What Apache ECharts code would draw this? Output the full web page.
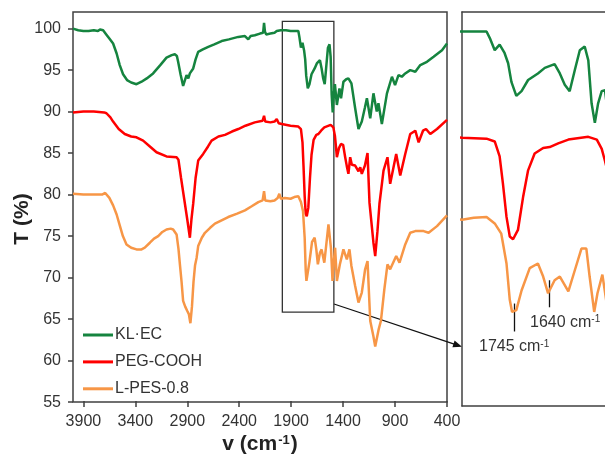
<!DOCTYPE html>
<html><head><meta charset="utf-8">
<script src="https://cdn.jsdelivr.net/npm/echarts/dist/echarts.min.js"></script>
<style>html,body{margin:0;padding:0;background:#fff}#c{width:605px;height:460px}</style>
</head><body><div id="c"></div>
<script>
const seriesNames = ['KL·EC', 'PEG-COOH', 'L-PES-0.8'];
const seriesColors = ['#15843F', '#FF0000', '#F79646'];

// [wavenumber (cm-1), transmittance (%)]
const klec = [[4000,100.0],[3950,99.8],[3900,99.7],[3850,99.7],[3800,99.8],[3760,99.7],[3740,99.9],[3726,100.0],[3710,99.8],[3680,99.3],[3650,98.8],[3614,98.2],[3580,97.0],[3550,95.6],[3518,94.5],[3480,93.8],[3440,93.5],[3389,93.3],[3340,93.6],[3290,94.0],[3229,94.6],[3160,95.6],[3100,96.5],[3050,96.8],[3020,96.9],[3000,96.7],[2988,96.0],[2965,94.5],[2940,93.1],[2925,93.3],[2907,94.4],[2890,94.0],[2875,94.6],[2859,94.6],[2843,95.2],[2820,96.3],[2795,97.2],[2750,97.5],[2698,97.8],[2640,98.1],[2569,98.5],[2500,98.7],[2409,99.0],[2345,99.1],[2313,98.7],[2290,99.1],[2250,99.2],[2200,99.4],[2170,99.5],[2161,100.7],[2152,99.6],[2140,99.3],[2100,99.4],[2060,99.5],[2039,99.7],[2020,99.5],[2000,99.8],[1991,99.9],[1950,99.8],[1906,99.7],[1860,99.7],[1831,99.7],[1821,99.0],[1806,97.7],[1791,98.3],[1776,97.4],[1765,96.3],[1755,94.3],[1740,92.8],[1724,93.3],[1704,94.5],[1674,95.2],[1653,95.8],[1623,96.2],[1607,95.2],[1592,94.0],[1577,93.3],[1561,95.6],[1546,97.7],[1531,98.1],[1520,96.6],[1510,92.0],[1500,89.9],[1490,92.0],[1479,93.3],[1469,93.4],[1460,90.8],[1435,92.8],[1420,91.6],[1397,93.6],[1370,93.9],[1349,94.0],[1320,93.4],[1284,90.4],[1252,87.9],[1220,88.8],[1190,90.5],[1171,91.6],[1139,89.2],[1108,92.2],[1076,90.0],[1060,91.0],[1027,88.5],[978,92.2],[930,94.2],[900,93.2],[867,94.4],[835,94.2],[802,94.6],[754,95.0],[705,94.8],[657,95.6],[593,96.0],[529,96.6],[448,97.4],[400,98.2]];

const pegCooh = [[4000,89.9],[3900,90.0],[3800,90.0],[3700,89.9],[3678,89.8],[3640,89.3],[3614,88.8],[3560,87.9],[3502,87.3],[3440,87.0],[3389,86.9],[3325,86.5],[3260,85.8],[3196,85.1],[3100,84.6],[3003,84.5],[2985,84.2],[2960,82.0],[2930,79.5],[2900,77.0],[2875,74.8],[2860,77.0],[2843,78.9],[2820,82.0],[2795,84.1],[2747,84.9],[2700,85.8],[2666,86.5],[2600,87.0],[2537,87.2],[2470,87.6],[2409,87.9],[2340,88.3],[2250,88.7],[2175,88.9],[2161,89.5],[2150,88.8],[2100,88.7],[2060,88.8],[2039,89.1],[2020,88.6],[1991,88.5],[1906,88.3],[1831,88.2],[1806,87.9],[1791,86.3],[1781,83.4],[1770,79.8],[1760,77.7],[1750,77.4],[1735,78.4],[1719,82.0],[1704,84.8],[1684,86.6],[1658,87.2],[1638,87.3],[1612,87.7],[1581,88.1],[1520,88.4],[1494,88.1],[1479,87.1],[1469,85.8],[1460,84.5],[1440,85.6],[1421,86.1],[1400,86.0],[1380,84.5],[1364,83.4],[1349,82.5],[1332,84.5],[1316,83.6],[1284,83.5],[1252,82.8],[1235,83.3],[1220,82.5],[1190,83.5],[1165,85.0],[1146,79.0],[1108,74.2],[1091,72.6],[1070,75.5],[1050,78.9],[1011,82.9],[973,84.5],[947,81.3],[889,84.9],[850,82.3],[802,84.9],[754,87.3],[705,87.7],[673,86.3],[631,87.7],[602,87.9],[561,87.3],[496,87.9],[400,89.0]];

const lPes = [[4000,80.1],[3900,80.0],[3800,80.0],[3720,80.0],[3690,80.2],[3678,80.1],[3650,79.6],[3614,78.7],[3580,77.6],[3550,76.3],[3520,75.0],[3485,74.0],[3440,73.6],[3389,73.4],[3340,73.4],[3309,73.6],[3260,74.2],[3220,74.7],[3180,75.0],[3140,75.5],[3100,75.8],[3060,75.9],[3036,75.8],[3003,75.2],[2985,73.5],[2971,71.6],[2955,69.5],[2940,67.2],[2920,66.5],[2901,66.0],[2885,65.6],[2870,64.5],[2855,66.5],[2840,69.5],[2825,71.5],[2810,72.4],[2795,73.8],[2760,74.8],[2730,75.4],[2680,76.0],[2634,76.5],[2570,76.9],[2506,77.3],[2420,77.7],[2345,78.1],[2280,78.6],[2216,79.1],[2175,79.3],[2161,80.4],[2150,79.3],[2100,79.2],[2060,79.3],[2030,79.6],[2014,80.1],[2000,79.5],[1960,79.6],[1906,79.5],[1870,79.7],[1831,79.8],[1806,79.1],[1786,78.0],[1770,74.8],[1760,70.9],[1753,69.6],[1740,69.8],[1724,71.9],[1699,74.3],[1674,74.8],[1658,73.4],[1643,71.6],[1623,73.0],[1607,73.4],[1581,71.8],[1561,74.1],[1541,76.4],[1526,76.4],[1516,73.4],[1502,69.6],[1492,71.6],[1477,73.6],[1460,69.6],[1431,71.6],[1397,73.4],[1364,72.2],[1339,73.4],[1320,71.4],[1284,69.0],[1252,67.0],[1220,68.2],[1188,71.0],[1165,72.0],[1139,64.8],[1108,62.9],[1091,61.7],[1059,63.7],[1036,64.8],[1004,68.5],[973,71.6],[947,71.0],[889,72.6],[857,71.8],[802,74.0],[754,75.4],[705,75.6],[625,75.6],[577,75.4],[496,76.2],[400,77.5]];

const xTicks = [3900, 3400, 2900, 2400, 1900, 1400, 900, 400];
const yTicks = [55, 60, 65, 70, 75, 80, 85, 90, 95, 100];
const peakMarks = [1745, 1640];
const allData = [klec, pegCooh, lPes];

const FONT = 'Liberation Sans, Arial, sans-serif';
const AX = '#404040';
const chart = echarts.init(document.getElementById('c'), null, {renderer: 'canvas'});

const series = [];
allData.forEach((d, i) => {
  series.push({
    name: seriesNames[i], type: 'line', xAxisIndex: 0, yAxisIndex: 0, data: d,
    showSymbol: false, symbol: 'none', lineStyle: {width: 2.5, color: seriesColors[i]},
    itemStyle: {color: seriesColors[i]}, z: 3 + i,
    markArea: i === 0 ? {
      silent: true,
      itemStyle: {color: 'rgba(0,0,0,0)', borderColor: '#333', borderWidth: 1.3},
      data: [[{coord: [1985, 100.86]}, {coord: [1489, 65.83]}]]
    } : undefined
  });
});
allData.forEach((d, i) => {
  series.push({
    name: seriesNames[i], type: 'line', xAxisIndex: 1, yAxisIndex: 1, data: d,
    showSymbol: false, symbol: 'none', lineStyle: {width: 2.5, color: seriesColors[i]},
    itemStyle: {color: seriesColors[i]}, z: 3 + i, clip: true,
    markLine: i === 2 ? {
      silent: true, symbol: ['none', 'none'], label: {show: false},
      lineStyle: {color: '#111', width: 1.3, type: 'solid'},
      data: [
        [{coord: [peakMarks[0], 70.5]}, {coord: [peakMarks[0], 67.5]}],
        [{coord: [peakMarks[1], 73.0]}, {coord: [peakMarks[1], 70.1]}]
      ]
    } : undefined
  });
});

const lblStyle = {fontSize: 16, color: '#333', fontFamily: FONT, formatter: v => String(v)};
const lineOnly = {axisLine: {show: true, lineStyle: {color: AX, width: 1.5}}, axisTick: {show: false}, axisLabel: {show: false}, splitLine: {show: false}};

const option = {
  animation: false,
  backgroundColor: '#fff',
  textStyle: {fontFamily: FONT},
  grid: [
    {left: 73, top: 12, width: 374, height: 394, show: true, borderColor: AX, borderWidth: 1.5, backgroundColor: 'rgba(0,0,0,0)'},
    {left: 462, top: 12, right: 0, height: 394},
    {left: 73, top: 12, width: 374, height: 394}
  ],
  xAxis: [
    {gridIndex: 0, type: 'value', min: 400, max: 4000, inverse: true,
     axisLine: {show: false}, splitLine: {show: false},
     axisTick: {show: true, length: 5, customValues: xTicks, lineStyle: {color: AX, width: 1.5}},
     axisLabel: Object.assign({customValues: xTicks, margin: 11}, lblStyle),
     name: '{b|v (cm}{s|-1}{b|)}', nameLocation: 'middle', nameGap: 31,
     nameTextStyle: {rich: {
       b: {fontSize: 21, fontWeight: 'bold', color: '#222', fontFamily: FONT},
       s: {fontSize: 13, fontWeight: 'bold', color: '#222', fontFamily: FONT, verticalAlign: 'top', padding: [0, 1, 0, 1]}
     }}},
    Object.assign({gridIndex: 1, type: 'value', min: 1469, max: 1906, inverse: true, position: 'bottom'}, lineOnly),
    {gridIndex: 2, type: 'value', min: 400, max: 4000, inverse: true,
     axisLine: {show: false}, splitLine: {show: false}, axisLabel: {show: false},
     axisTick: {show: true, inside: true, length: 5, customValues: xTicks, lineStyle: {color: AX, width: 1.5}}},
    Object.assign({gridIndex: 1, type: 'value', min: 1469, max: 1906, inverse: true, position: 'top'}, lineOnly)
  ],
  yAxis: [
    {gridIndex: 0, type: 'value', min: 55, max: 102,
     axisLine: {show: false}, splitLine: {show: false},
     axisTick: {show: true, length: 5, customValues: yTicks, lineStyle: {color: AX, width: 1.5}},
     axisLabel: Object.assign({customValues: yTicks, margin: 12}, lblStyle)},
    Object.assign({gridIndex: 1, type: 'value', min: 59.5, max: 101.8, position: 'left'}, lineOnly),
    {gridIndex: 2, type: 'value', min: 55, max: 102, show: false}
  ],
  legend: {
    orient: 'vertical', left: 78, top: 321.5, itemWidth: 30, itemHeight: 3, itemGap: 9.9,
    icon: 'rect', data: seriesNames, selectedMode: false,
    textStyle: {fontSize: 16, color: '#333', lineHeight: 17, fontFamily: FONT, padding: [0, 0, 0, -3]}
  },
  graphic: [
    {type: 'text', x: 22, y: 219, rotation: Math.PI / 2, silent: true,
     style: {text: 'T (%)', align: 'center', verticalAlign: 'middle', fontSize: 21, fontWeight: 'bold', fill: '#222', fontFamily: FONT}},
    {type: 'line', shape: {x1: 334, y1: 304, x2: 455, y2: 344.3}, style: {stroke: '#111', lineWidth: 1.3}, silent: true},
    {type: 'polygon', shape: {points: [[462, 346.7], [452.4, 347.2], [454.6, 340.6]]}, style: {fill: '#111'}, silent: true},
    {type: 'text', x: 479, y: 347, silent: true,
     style: {text: '{a|' + peakMarks[0] + ' cm}{s|-1}', verticalAlign: 'middle', align: 'left',
       rich: {a: {fontSize: 16, fill: '#333', fontFamily: FONT}, s: {fontSize: 10, fill: '#333', fontFamily: FONT, verticalAlign: 'top'}}}},
    {type: 'text', x: 530, y: 322.5, silent: true,
     style: {text: '{a|' + peakMarks[1] + ' cm}{s|-1}', verticalAlign: 'middle', align: 'left',
       rich: {a: {fontSize: 16, fill: '#333', fontFamily: FONT}, s: {fontSize: 10, fill: '#333', fontFamily: FONT, verticalAlign: 'top'}}}}
  ],
  series: series
};
chart.setOption(option);
</script>
</body></html>
